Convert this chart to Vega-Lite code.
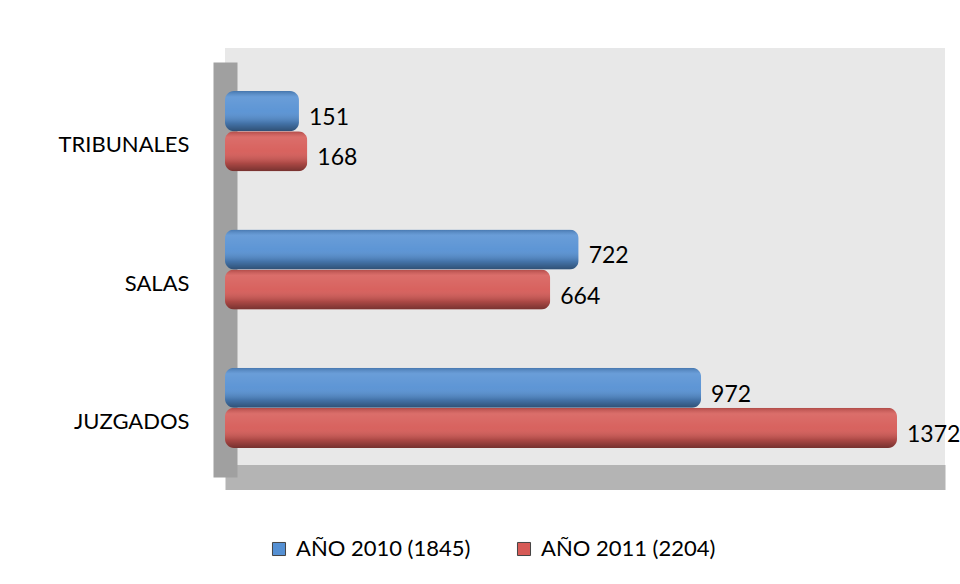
{
  "$schema": "https://vega.github.io/schema/vega-lite/v6.json",
  "width": 720,
  "height": 429,
  "autosize": "none",
  "padding": {"left": 225, "top": 48, "right": 15, "bottom": 107},
  "background": "white",
  "config": {
    "view": {"fill": "#e8e8e8", "stroke": null},
    "font": "Lato"
  },
  "data": {
    "values": [
      {"cat": "TRIBUNALES", "serie": "AÑO 2010 (1845)", "v": 151},
      {"cat": "TRIBUNALES", "serie": "AÑO 2011 (2204)", "v": 168},
      {"cat": "SALAS", "serie": "AÑO 2010 (1845)", "v": 722},
      {"cat": "SALAS", "serie": "AÑO 2011 (2204)", "v": 664},
      {"cat": "JUZGADOS", "serie": "AÑO 2010 (1845)", "v": 972},
      {"cat": "JUZGADOS", "serie": "AÑO 2011 (2204)", "v": 1372}
    ]
  },
  "encoding": {
    "y": {
      "field": "cat", "type": "nominal", "sort": ["TRIBUNALES", "SALAS", "JUZGADOS"],
      "scale": {"range": [14, 429], "paddingInner": 0.42, "paddingOuter": 0.21},
      "axis": {"title": null, "ticks": false, "labelPadding": 36, "labelFontSize": 22, "labelColor": "#000", "labelFont": "Lato", "labelOffset": 14, "domainColor": "#a0a0a0", "domainWidth": 24}
    },
    "yOffset": {"field": "serie", "type": "nominal", "sort": ["AÑO 2010 (1845)", "AÑO 2011 (2204)"]},
    "x": {
      "field": "v", "type": "quantitative",
      "scale": {"domain": [0, 1470], "nice": false},
      "axis": {"title": null, "labels": false, "ticks": false, "grid": false, "domainColor": "#b4b4b4", "domainWidth": 25}
    }
  },
  "layer": [
    {
      "mark": {"type": "bar", "cornerRadius": 9},
      "encoding": {
        "color": {
          "field": "serie", "type": "nominal",
          "scale": {"domain": ["AÑO 2010 (1845)", "AÑO 2011 (2204)"], "range": ["#5590d3", "#d65a56"]},
          "legend": {"title": null, "orient": "none", "direction": "horizontal", "legendX": 43, "legendY": 490, "symbolType": "square", "symbolSize": 170, "symbolStrokeWidth": 1, "symbolStrokeColor": "#444", "symbolOpacity": 1, "labelFontSize": 22, "labelColor": "#000", "labelFont": "Lato", "labelOffset": 6, "columnPadding": 42, "labelLimit": 300}
        }
      }
    },
    {
      "mark": {
        "type": "bar", "cornerRadius": 9,
        "fill": {"gradient": "linear", "x1": 0, "y1": 0, "x2": 0, "y2": 1,
          "stops": [
            {"offset": 0, "color": "rgba(0,0,0,0.18)"},
            {"offset": 0.15, "color": "rgba(255,255,255,0.12)"},
            {"offset": 0.5, "color": "rgba(255,255,255,0.05)"},
            {"offset": 0.8, "color": "rgba(0,0,0,0.2)"},
            {"offset": 1, "color": "rgba(0,0,0,0.45)"}
          ]}
      }
    },
    {
      "mark": {"type": "text", "align": "left", "baseline": "middle", "dx": 10, "dy": 7, "fontSize": 23, "color": "#000", "font": "Lato"},
      "encoding": {"text": {"field": "v", "type": "quantitative"}}
    }
  ]
}
